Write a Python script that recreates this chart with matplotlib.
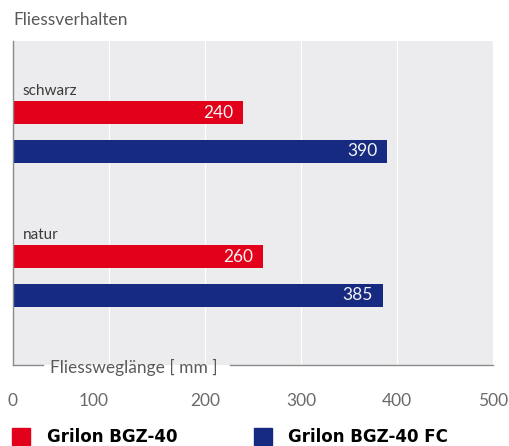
import matplotlib
matplotlib.use("Agg")
import matplotlib.pyplot as plt
from matplotlib.patches import Rectangle
from matplotlib.lines import Line2D

groups = ["schwarz", "natur"]
series_names = ["Grilon BGZ-40", "Grilon BGZ-40 FC"]
bgz40 = [240, 260]
bgz40fc = [390, 385]
xticks = [0, 100, 200, 300, 400, 500]
title = "Fliessverhalten"
xlabel = "Fliessweglänge [ mm ]"

RED = "#E2001A"
BLUE = "#172A82"
GRAY_TXT = "#5a5a5a"
PANEL = "#ECECEE"

plt.rcParams['font.family'] = ['Lato', 'DejaVu Sans']

fig = plt.figure(figsize=(5.09, 4.46), dpi=100)
ax = fig.add_axes([13/509, 81/446, 480/509, 324/446])
ax.set_facecolor(PANEL)

off = 0.135
h = 0.156
ypos = list(range(len(groups)))
ax.barh([y - off for y in ypos], bgz40, height=h, color=RED, zorder=3)
ax.barh([y + off for y in ypos], bgz40fc, height=h, color=BLUE, zorder=3)

for y, v in zip(ypos, bgz40):
    ax.text(v - 10, y - off, str(v), color="#f4f4f4", ha="right", va="center",
            fontsize=12.5, zorder=4)
for y, v in zip(ypos, bgz40fc):
    ax.text(v - 10, y + off, str(v), color="#f4f4f4", ha="right", va="center",
            fontsize=12.5, zorder=4)
for y, g in zip(ypos, groups):
    ax.text(10, y - 0.285, g, color="#3a3a3a", ha="left", va="center",
            fontsize=11, zorder=4)

ax.set_xlim(0, 500)
ax.set_ylim(1.618, -0.632)
ax.set_xticks(xticks)
ax.set_xticklabels([str(t) for t in xticks])
ax.set_yticks([])
ax.tick_params(axis='x', length=0, pad=20, labelsize=12.5, labelcolor="#6a6a6a")
tl = ax.get_xticklabels()
tl[1].set_ha('right')

ax.xaxis.grid(True, color="white", linewidth=0.8, zorder=1)
ax.set_axisbelow(True)
for s in ax.spines.values():
    s.set_visible(False)

ax.add_line(Line2D([0, 0], [0, 1], transform=ax.transAxes, color="#8a8a8a",
                   linewidth=1, clip_on=False, zorder=5))
ax.add_line(Line2D([0, 0.063], [0, 0], transform=ax.transAxes, color="#8a8a8a",
                   linewidth=1, clip_on=False, zorder=5))
ax.add_line(Line2D([0.452, 1], [0, 0], transform=ax.transAxes, color="#8a8a8a",
                   linewidth=1, clip_on=False, zorder=5))
ax.text(0.077, -0.008, xlabel, transform=ax.transAxes, ha="left", va="center",
        fontsize=12.5, color=GRAY_TXT, zorder=5)

fig.text(13/509, 1 - 20/446, title, ha="left", va="center", fontsize=12.5,
         color=GRAY_TXT)

# legend
lx = [12, 254]
tx = [47, 288]
for cx, t, name, col in zip(lx, tx, series_names, [RED, BLUE]):
    fig.patches.append(Rectangle((cx/509, 1 - 445/446), 18/509, 17/446,
                                 transform=fig.transFigure, color=col))
    fig.text(t/509, 1 - 437/446, name, ha="left", va="center", fontsize=12,
             fontweight="heavy", color="black", family=['DejaVu Sans'])

fig.savefig("out.png", dpi=100)
